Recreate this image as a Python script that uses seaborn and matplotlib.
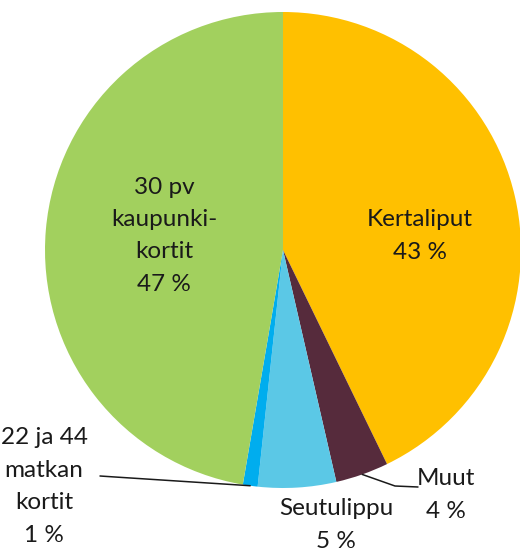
import numpy as np
import matplotlib
matplotlib.use("Agg")
import matplotlib.pyplot as plt
import seaborn as sns

sns.set_theme(style="white")
plt.rcParams['font.family'] = ['Lato', 'DejaVu Sans']

# ticket types, clockwise from 12 o'clock
categories = ["Kertaliput", "Muut", "Seutulippu", "22 ja 44 matkan kortit", "30 pv kaupunkikortit"]
shares = [42.8, 3.6, 5.3, 1.0, 47.3]
pct_labels = ["43 %", "4 %", "5 %", "1 %", "47 %"]
colors = ["#FFC000", "#562B3C", "#5BC8E6", "#00ADEE", "#A2D05E"]

W, H = 520, 551
CX, CY, R = 283, 250, 238

fig = plt.figure(figsize=(W / 100, H / 100), dpi=100)
ax = fig.add_axes([0, 0, 1, 1])

wedges, _ = ax.pie(shares, colors=colors, startangle=90, counterclock=False,
                   radius=1, center=(0, 0), wedgeprops=dict(linewidth=0))
ax.set_xlim(-CX / R, (W - CX) / R)
ax.set_ylim(-(H - CY) / R, CY / R)
ax.set_aspect("equal")
ax.axis("off")


def px(x, y):
    # pixel position -> data coords
    return (x - CX) / R, (CY - y) / R


def mid_point(w, r=1.0):
    a = np.deg2rad((w.theta1 + w.theta2) / 2)
    return r * np.cos(a), r * np.sin(a)


fs = 17.5
lines = {
    0: (["Kertaliput", pct_labels[0]], 420, 220),
    1: (["Muut", pct_labels[1]], 446, 479),
    2: (["Seutulippu", pct_labels[2]], 336, 509),
    3: (["22 ja 44", "matkan", "kortit", pct_labels[3]], 44, 438),
    4: (["30 pv", "kaupunki-", "kortit", pct_labels[4]], 164, 187),
}
for i, (txt, x0, y0) in lines.items():
    for k, t in enumerate(txt):
        tx, ty = px(x0, y0 + k * 32.5)
        ax.text(tx, ty, t, ha="center", va="center", fontsize=fs, color="#1a1a1a")

# leader lines
sx, sy = mid_point(wedges[1])
ax.plot([sx, px(395, 486)[0], px(418, 487)[0]],
        [sy, px(395, 486)[1], px(418, 487)[1]], color="#1a1a1a", lw=1.1)
sx, sy = mid_point(wedges[3])
ax.plot([sx, px(115, 477)[0], px(100, 476)[0]],
        [sy, px(115, 477)[1], px(100, 476)[1]], color="#1a1a1a", lw=1.1)

fig.savefig("out.png", dpi=100)
